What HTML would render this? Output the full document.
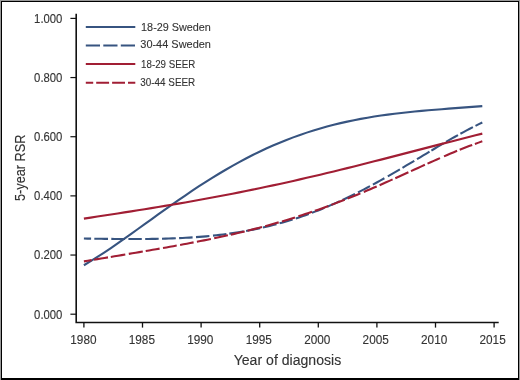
<!DOCTYPE html>
<html><head><meta charset="utf-8"><style>
html,body{margin:0;padding:0;background:#fff;}
body{width:520px;height:380px;overflow:hidden;position:relative;}
svg{position:absolute;left:0;top:0;will-change:transform;}
.t{font-family:"Liberation Sans",sans-serif;font-size:12.3px;fill:#333333;stroke:#333333;stroke-width:0.12px;}
.l{font-family:"Liberation Sans",sans-serif;font-size:10.6px;fill:#333333;stroke:#333333;stroke-width:0.1px;}
.a{font-family:"Liberation Sans",sans-serif;font-size:15.1px;fill:#333333;stroke:#333333;stroke-width:0.12px;}
</style></head><body>
<svg width="520" height="380" viewBox="0 0 520 380">
<rect x="0" y="0" width="520" height="380" fill="#fff"/>
<path d="M76.2,13.7 V322.5 H498.7" fill="none" stroke="#111" stroke-width="1.6"/>
<line x1="70.4" x2="76" y1="18.40" y2="18.40" stroke="#111" stroke-width="1.2"/>
<text x="62.4" y="22.70" text-anchor="end" class="t" textLength="28.3" lengthAdjust="spacingAndGlyphs">1.000</text>
<line x1="70.4" x2="76" y1="77.56" y2="77.56" stroke="#111" stroke-width="1.2"/>
<text x="62.4" y="81.86" text-anchor="end" class="t" textLength="28.3" lengthAdjust="spacingAndGlyphs">0.800</text>
<line x1="70.4" x2="76" y1="136.72" y2="136.72" stroke="#111" stroke-width="1.2"/>
<text x="62.4" y="141.02" text-anchor="end" class="t" textLength="28.3" lengthAdjust="spacingAndGlyphs">0.600</text>
<line x1="70.4" x2="76" y1="195.88" y2="195.88" stroke="#111" stroke-width="1.2"/>
<text x="62.4" y="200.18" text-anchor="end" class="t" textLength="28.3" lengthAdjust="spacingAndGlyphs">0.400</text>
<line x1="70.4" x2="76" y1="255.04" y2="255.04" stroke="#111" stroke-width="1.2"/>
<text x="62.4" y="259.34" text-anchor="end" class="t" textLength="28.3" lengthAdjust="spacingAndGlyphs">0.200</text>
<line x1="70.4" x2="76" y1="314.20" y2="314.20" stroke="#111" stroke-width="1.2"/>
<text x="62.4" y="318.50" text-anchor="end" class="t" textLength="28.3" lengthAdjust="spacingAndGlyphs">0.000</text>
<line x1="83.90" x2="83.90" y1="322.5" y2="327.6" stroke="#111" stroke-width="1.3"/>
<text x="70.30" y="343.6" class="t" textLength="26.2" lengthAdjust="spacingAndGlyphs">1980</text>
<line x1="142.50" x2="142.50" y1="322.5" y2="327.6" stroke="#111" stroke-width="1.3"/>
<text x="128.76" y="343.6" class="t" textLength="26.2" lengthAdjust="spacingAndGlyphs">1985</text>
<line x1="201.10" x2="201.10" y1="322.5" y2="327.6" stroke="#111" stroke-width="1.3"/>
<text x="187.22" y="343.6" class="t" textLength="26.2" lengthAdjust="spacingAndGlyphs">1990</text>
<line x1="259.70" x2="259.70" y1="322.5" y2="327.6" stroke="#111" stroke-width="1.3"/>
<text x="245.68" y="343.6" class="t" textLength="26.2" lengthAdjust="spacingAndGlyphs">1995</text>
<line x1="318.30" x2="318.30" y1="322.5" y2="327.6" stroke="#111" stroke-width="1.3"/>
<text x="304.14" y="343.6" class="t" textLength="26.2" lengthAdjust="spacingAndGlyphs">2000</text>
<line x1="376.90" x2="376.90" y1="322.5" y2="327.6" stroke="#111" stroke-width="1.3"/>
<text x="362.60" y="343.6" class="t" textLength="26.2" lengthAdjust="spacingAndGlyphs">2005</text>
<line x1="435.50" x2="435.50" y1="322.5" y2="327.6" stroke="#111" stroke-width="1.3"/>
<text x="421.06" y="343.6" class="t" textLength="26.2" lengthAdjust="spacingAndGlyphs">2010</text>
<line x1="494.10" x2="494.10" y1="322.5" y2="327.6" stroke="#111" stroke-width="1.3"/>
<text x="479.52" y="343.6" class="t" textLength="26.2" lengthAdjust="spacingAndGlyphs">2015</text>
<path d="M83.90,265.25 L90.65,261.20 L97.41,256.95 L104.16,252.55 L110.91,248.01 L117.66,243.36 L124.42,238.63 L131.17,233.84 L137.92,229.00 L144.67,224.15 L151.43,219.29 L158.18,214.44 L164.93,209.63 L171.68,204.86 L178.44,200.15 L185.19,195.51 L191.94,190.95 L198.69,186.49 L205.45,182.12 L212.20,177.87 L218.95,173.74 L225.70,169.73 L232.46,165.86 L239.21,162.12 L245.96,158.51 L252.71,155.05 L259.47,151.74 L266.22,148.57 L272.97,145.54 L279.72,142.67 L286.48,139.94 L293.23,137.36 L299.98,134.92 L306.73,132.62 L313.49,130.46 L320.24,128.44 L326.99,126.54 L333.74,124.78 L340.50,123.14 L347.25,121.61 L354.00,120.20 L360.75,118.89 L367.51,117.69 L374.26,116.58 L381.01,115.56 L387.76,114.62 L394.52,113.75 L401.27,112.95 L408.02,112.21 L414.77,111.53 L421.53,110.89 L428.28,110.30 L435.03,109.73 L441.78,109.19 L448.54,108.67 L455.29,108.16 L462.04,107.65 L468.79,107.15 L475.55,106.63 L482.30,106.10" fill="none" stroke="#375480" stroke-width="2.1"/>
<path d="M83.90,238.52 L87.50,238.58 L91.10,238.64 M94.30,238.69 L97.72,238.74 L101.15,238.79 L104.58,238.84 L108.00,238.88 M111.30,238.92 L114.72,238.95 L118.15,238.98 L121.58,239.01 L125.00,239.02 M128.40,239.04 L131.75,239.04 L135.10,239.04 L138.45,239.04 L141.80,239.02 M145.20,239.00 L148.57,238.97 L151.95,238.92 L155.32,238.87 L158.70,238.80 M162.00,238.73 L165.45,238.64 L168.90,238.53 L172.35,238.42 L175.80,238.28 M179.10,238.14 L182.47,237.97 L185.85,237.80 L189.22,237.60 L192.60,237.38 M196.00,237.15 L199.35,236.89 L202.70,236.62 L206.05,236.33 L209.40,236.01 M213.00,235.65 L216.35,235.29 L219.70,234.90 L223.05,234.49 L226.40,234.06 M229.30,233.66 L232.90,233.14 L236.50,232.59 L240.10,232.00 L243.70,231.39 M246.10,230.96 L249.60,230.30 L253.10,229.62 L256.60,228.90 L260.10,228.15 M262.90,227.52 L266.30,226.73 L269.70,225.91 L273.10,225.05 L276.50,224.16 M279.60,223.32 L282.85,222.41 L286.10,221.46 L289.35,220.49 L292.60,219.48 M295.80,218.45 L299.05,217.38 L302.30,216.28 L305.55,215.14 L308.80,213.97 M311.90,212.82 L315.05,211.63 L318.20,210.40 L321.35,209.15 L324.50,207.86 M327.20,206.74 L330.35,205.40 L333.50,204.03 L336.65,202.63 L339.80,201.20 M342.50,199.96 L345.62,198.49 L348.75,197.00 L351.88,195.48 L355.00,193.93 M358.00,192.42 L361.00,190.89 L364.00,189.34 L367.00,187.77 L370.00,186.17 M372.90,184.61 L376.73,182.52 L380.57,180.40 L384.40,178.25 M387.80,176.32 L390.82,174.59 L393.85,172.85 L396.88,171.09 L399.90,169.32 M402.50,167.79 L406.43,165.47 L410.37,163.13 L414.30,160.78 M417.00,159.16 L420.12,157.29 L423.25,155.42 L426.38,153.54 L429.50,151.67 M431.40,150.54 L434.42,148.73 L437.45,146.94 L440.48,145.15 L443.50,143.37 M446.00,141.92 L449.00,140.18 L452.00,138.46 L455.00,136.76 L458.00,135.08 M460.40,133.75 L463.52,132.05 L466.65,130.37 L469.77,128.73 L472.90,127.12 M475.50,125.82 L478.90,124.15 L482.30,122.53" fill="none" stroke="#375480" stroke-width="2.1"/>
<path d="M83.90,218.65 L90.65,217.61 L97.41,216.58 L104.16,215.55 L110.91,214.51 L117.66,213.46 L124.42,212.41 L131.17,211.36 L137.92,210.29 L144.67,209.21 L151.43,208.12 L158.18,207.01 L164.93,205.89 L171.68,204.76 L178.44,203.61 L185.19,202.44 L191.94,201.25 L198.69,200.05 L205.45,198.82 L212.20,197.57 L218.95,196.30 L225.70,195.02 L232.46,193.71 L239.21,192.37 L245.96,191.02 L252.71,189.64 L259.47,188.24 L266.22,186.82 L272.97,185.38 L279.72,183.91 L286.48,182.42 L293.23,180.91 L299.98,179.38 L306.73,177.83 L313.49,176.26 L320.24,174.67 L326.99,173.06 L333.74,171.43 L340.50,169.79 L347.25,168.12 L354.00,166.45 L360.75,164.76 L367.51,163.06 L374.26,161.34 L381.01,159.62 L387.76,157.88 L394.52,156.14 L401.27,154.39 L408.02,152.64 L414.77,150.89 L421.53,149.13 L428.28,147.38 L435.03,145.63 L441.78,143.89 L448.54,142.15 L455.29,140.42 L462.04,138.70 L468.79,137.00 L475.55,135.31 L482.30,133.64" fill="none" stroke="#a11e34" stroke-width="2.1"/>
<path d="M83.90,261.40 L87.75,260.76 L91.60,260.12 M94.00,259.73 L97.50,259.14 L101.00,258.56 L104.50,257.97 L108.00,257.39 M110.80,256.92 L114.42,256.31 L118.05,255.71 L121.67,255.10 L125.30,254.49 M128.80,253.90 L132.30,253.30 L135.80,252.71 L139.30,252.12 L142.80,251.52 M145.70,251.02 L149.17,250.42 L152.65,249.82 L156.12,249.22 L159.60,248.61 M163.00,248.01 L166.43,247.41 L169.85,246.80 L173.27,246.18 L176.70,245.56 M180.10,244.93 L183.47,244.31 L186.85,243.68 L190.22,243.04 L193.60,242.39 M196.90,241.75 L200.40,241.07 L203.90,240.37 L207.40,239.67 L210.90,238.95 M214.20,238.26 L217.62,237.54 L221.05,236.81 L224.47,236.06 L227.90,235.31 M230.80,234.66 L234.28,233.86 L237.75,233.06 L241.22,232.24 L244.70,231.40 M247.60,230.69 L251.20,229.80 L254.80,228.89 L258.40,227.96 L262.00,227.01 M265.20,226.15 L268.57,225.23 L271.95,224.30 L275.32,223.34 L278.70,222.37 M282.00,221.40 L285.25,220.43 L288.50,219.45 L291.75,218.45 L295.00,217.43 M298.40,216.35 L301.80,215.24 L305.20,214.12 L308.60,212.98 L312.00,211.82 M314.90,210.82 L318.27,209.64 L321.65,208.43 L325.02,207.21 L328.40,205.97 M331.30,204.89 L334.65,203.63 L338.00,202.35 L341.35,201.05 L344.70,199.74 M347.60,198.59 L350.80,197.31 L354.00,196.01 L357.20,194.70 L360.40,193.37 M363.80,191.95 L367.02,190.59 L370.25,189.21 L373.48,187.83 L376.70,186.43 M379.60,185.17 L382.85,183.74 L386.10,182.31 L389.35,180.86 L392.60,179.41 M395.30,178.20 L398.57,176.73 L401.85,175.25 L405.12,173.77 L408.40,172.29 M411.00,171.11 L414.48,169.53 L417.95,167.96 L421.42,166.39 L424.90,164.82 M427.50,163.65 L430.62,162.25 L433.75,160.86 L436.88,159.48 L440.00,158.11 M444.00,156.37 L447.27,154.96 L450.55,153.57 L453.83,152.19 L457.10,150.84 M459.70,149.78 L462.82,148.53 L465.95,147.30 L469.07,146.10 L472.20,144.93 M474.90,143.94 L478.60,142.62 L482.30,141.35" fill="none" stroke="#a11e34" stroke-width="2.1"/>
<line x1="85.8" x2="135.3" y1="27.0" y2="27.0" stroke="#375480" stroke-width="2"/>
<text x="141.1" y="30.5" class="l" textLength="69.8" lengthAdjust="spacingAndGlyphs">18-29 Sweden</text>
<line x1="85.8" x2="135.3" y1="45.5" y2="45.5" stroke="#375480" stroke-width="2" stroke-dasharray="14.2 3.3"/>
<text x="140.3" y="48.4" class="l" textLength="70.6" lengthAdjust="spacingAndGlyphs">30-44 Sweden</text>
<line x1="85.8" x2="135.3" y1="64.1" y2="64.1" stroke="#a11e34" stroke-width="2"/>
<text x="141.1" y="67.5" class="l" textLength="54.1" lengthAdjust="spacingAndGlyphs">18-29 SEER</text>
<line x1="85.8" x2="135.3" y1="82.7" y2="82.7" stroke="#a11e34" stroke-width="2" stroke-dasharray="12.9 3" stroke-dashoffset="5.5"/>
<text x="140.3" y="85.7" class="l" textLength="54.9" lengthAdjust="spacingAndGlyphs">30-44 SEER</text>
<text x="233.7" y="364.5" class="a" textLength="107.5" lengthAdjust="spacingAndGlyphs">Year of diagnosis</text>
<text transform="translate(24.5,201.0) rotate(-90)" x="0" y="0" class="a" textLength="66.5" lengthAdjust="spacingAndGlyphs">5-year RSR</text>
<rect x="0" y="0" width="520" height="1" fill="#999"/>
<rect x="0" y="0" width="1" height="380" fill="#999"/>
<rect x="519" y="0" width="1" height="380" fill="#999"/>
<rect x="1" y="1" width="518" height="1" fill="#000"/>
<rect x="1" y="1" width="1" height="379" fill="#000"/>
<rect x="518" y="1" width="1" height="379" fill="#000"/>
<rect x="1" y="378" width="518" height="2" fill="#000"/>
</svg>
</body></html>
